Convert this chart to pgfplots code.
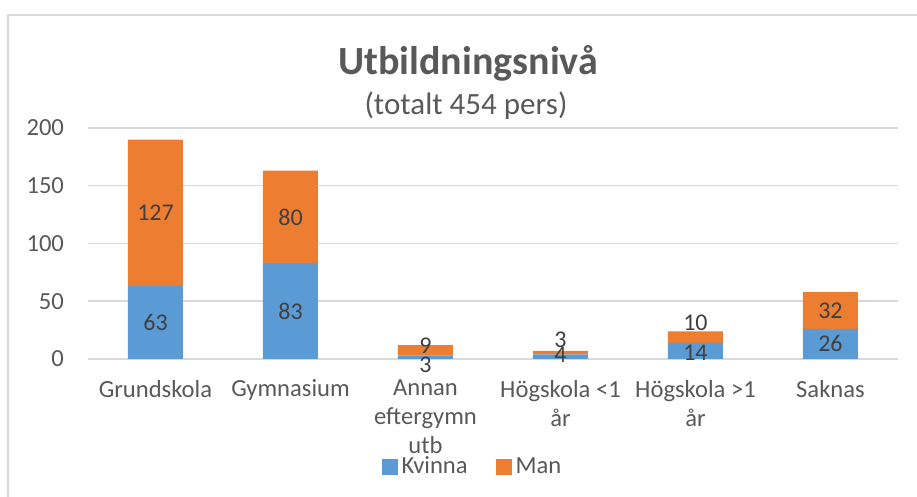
\documentclass[border=0pt]{standalone}
\usepackage{pgfplots}
\pgfplotsset{compat=1.18}
\usepackage{pgfplotstable}
\usepackage{fontspec}
\setmainfont{Carlito}
\definecolor{kvc}{HTML}{5B9BD5}
\definecolor{manc}{HTML}{ED7D31}
\definecolor{txt}{HTML}{595959}
\definecolor{gridc}{HTML}{D9D9D9}
\definecolor{lbl}{HTML}{404040}
\pgfplotstableread{
x kv man kvs mans
0 63 127 0 0
1 83 80 0 0
2 3 9 -4 2.5
3 4 3 1 6.5
4 14 10 -1 7
5 26 32 0 0
}\data
\begin{document}
\begin{tikzpicture}
\path[use as bounding box] (0,0) rectangle (458.5pt,248.5pt);
\draw[gridc, line width=0.75pt] (4pt,0) -- (4pt,241pt) -- (458.5pt,241pt);
\node[text=txt, font=\fontsize{20}{24}\selectfont\bfseries] at (234pt,217pt) {Utbildningsnivå};
\node[text=txt, font=\fontsize{15.5}{18}\selectfont] at (233pt,195.5pt) {(totalt 454 pers)};
\begin{axis}[
  at={(44pt,69pt)}, anchor=south west, scale only axis,
  width=405pt, height=115.5pt,
  ybar stacked, bar width=27.5pt,
  xmin=-0.5, xmax=5.5, ymin=0, ymax=200,
  ytick={0,50,...,200},
  xtick={0,...,5},
  xticklabels={Grundskola, Gymnasium, {Annan\\eftergymn\\utb}, {Högskola <1\\år}, {Högskola >1\\år}, Saknas},
  axis line style={draw=none},
  major tick length=0pt,
  ymajorgrids, grid style={gridc, line width=0.75pt},
  /pgf/number format/assume math mode=true,
  tick label style={font=\fontsize{12.3}{14.5}\selectfont, text=txt},
  xticklabel style={align=center, anchor=north, yshift=-7pt},
  yticklabel style={anchor=east, xshift=-8.5pt},
  legend style={at={(0.476,-0.4675)}, anchor=center, draw=none, fill=none,
    legend columns=2, font=\fontsize{12.3}{14}\selectfont, text=txt,
    /tikz/every even column/.append style={column sep=12pt},
    inner sep=0pt},
  legend image code/.code={\fill[#1] (0pt,-4pt) rectangle (8pt,4pt);},
  nodes near coords,
  point meta=explicit,
  every node near coord/.append style={font=\fontsize{12}{14}\selectfont, text=lbl},
]
\addplot[fill=kvc, draw=none,
  visualization depends on={\thisrow{kvs} \as \ys},
  every node near coord/.append style={anchor=center, yshift=\ys pt}]
  table[x=x, y=kv, meta=kv] {\data};
\addplot[fill=manc, draw=none,
  visualization depends on={\thisrow{mans} \as \ys},
  every node near coord/.append style={anchor=center, yshift=\ys pt}]
  table[x=x, y=man, meta=man] {\data};
\legend{Kvinna, Man}
\end{axis}
\end{tikzpicture}
\end{document}
